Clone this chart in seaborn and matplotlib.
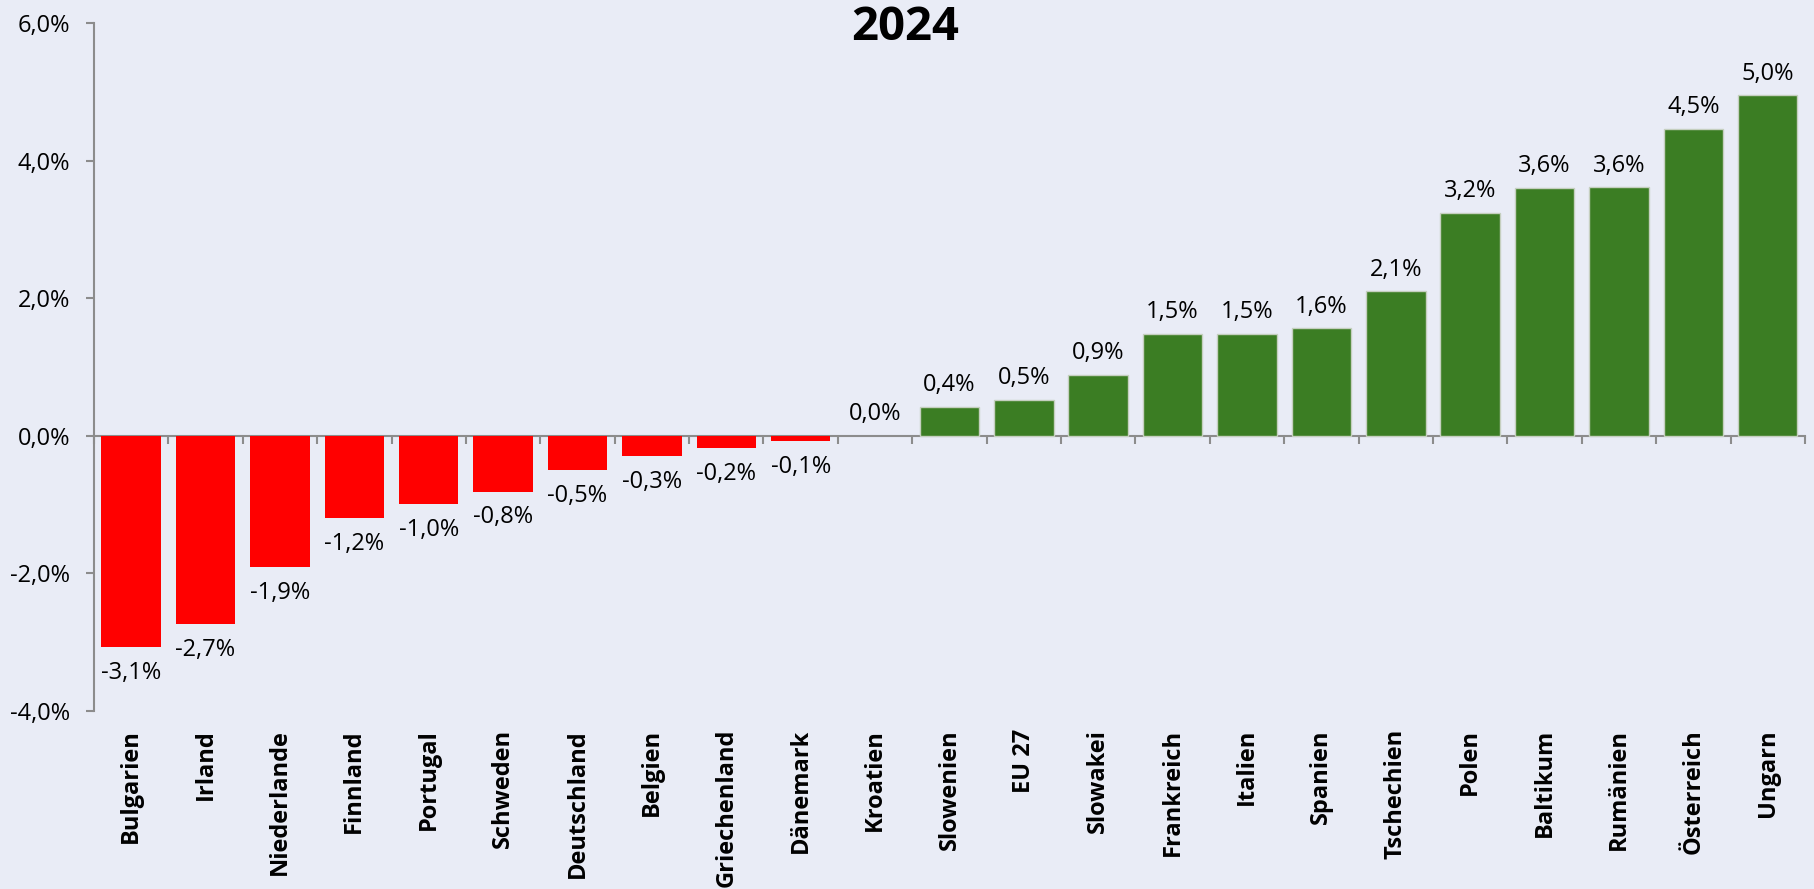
import numpy as np
import pandas as pd
import matplotlib
matplotlib.use("Agg")
import matplotlib.pyplot as plt
from matplotlib.ticker import FuncFormatter, FixedLocator
import seaborn as sns

countries = ["Bulgarien", "Irland", "Niederlande", "Finnland", "Portugal", "Schweden",
             "Deutschland", "Belgien", "Griechenland", "Dänemark", "Kroatien", "Slowenien",
             "EU 27", "Slowakei", "Frankreich", "Italien", "Spanien", "Tschechien",
             "Polen", "Baltikum", "Rumänien", "Österreich", "Ungarn"]
values = [-3.07, -2.74, -1.91, -1.19, -0.99, -0.81, -0.50, -0.29, -0.18, -0.08, 0.0, 0.42,
          0.52, 0.89, 1.48, 1.48, 1.56, 2.10, 3.24, 3.60, 3.61, 4.46, 4.95]
labels = ["-3,1%", "-2,7%", "-1,9%", "-1,2%", "-1,0%", "-0,8%", "-0,5%", "-0,3%", "-0,2%",
          "-0,1%", "0,0%", "0,4%", "0,5%", "0,9%", "1,5%", "1,5%", "1,6%", "2,1%", "3,2%",
          "3,6%", "3,6%", "4,5%", "5,0%"]
title = "2024"

bg = "#e9ecf6"
red = "#ff0000"
green = "#3b7d23"
grey = "#8c8c8c"

sns.set_style("white", {"axes.facecolor": bg, "figure.facecolor": bg,
                        "text.color": "black", "xtick.color": "black", "ytick.color": "black"})
plt.rcParams["font.family"] = ["Open Sans", "DejaVu Sans"]

df = pd.DataFrame({"land": countries, "wert": values})
colors = [red if v < 0 else green for v in values]

fig = plt.figure(figsize=(18.14, 8.89), dpi=100)
ax = fig.add_axes([0.0518, 0.2002, 0.9432, 0.7739])

sns.barplot(data=df, x="land", y="wert", hue="land", palette=colors, legend=False,
            width=0.8, ax=ax, saturation=1)
for bar, v in zip(ax.patches, values):
    if v > 0:
        bar.set_edgecolor("#c5cfbf")
        bar.set_linewidth(1)
    else:
        bar.set_linewidth(0)

for i, (v, lab) in enumerate(zip(values, labels)):
    if v < 0:
        ax.annotate(lab, (i, v), xytext=(0, -10), textcoords="offset points",
                    ha="center", va="top", fontsize=17, color="black")
    else:
        ax.annotate(lab, (i, v), xytext=(0, 7), textcoords="offset points",
                    ha="center", va="bottom", fontsize=17, color="black")

ylo, yhi = -4, 6
ax.set_ylim(ylo, yhi)
ax.set_xlim(-0.5, len(countries) - 0.5)
ax.set_yticks(np.arange(ylo, yhi + 1, 2))
ax.yaxis.set_major_formatter(FuncFormatter(lambda y, p: f"{y:.1f}%".replace(".", ",")))
ax.tick_params(axis="y", length=6, width=1.5, color=grey, pad=11, labelsize=17,
               left=True, labelcolor="black")
ax.tick_params(axis="x", length=0, pad=13, labelsize=17, labelcolor="black")
ax.set_xticks(range(len(countries)))
ax.set_xticklabels(countries, rotation=90, fontweight="bold")
ax.set_xlabel("")
ax.set_ylabel("")

for s in ["top", "right", "bottom"]:
    ax.spines[s].set_visible(False)
ax.spines["left"].set_color(grey)
ax.spines["left"].set_linewidth(1.5)

# zero line with category separators
zero = ax.secondary_xaxis((0 - ylo) / (yhi - ylo))
zero.xaxis.set_major_locator(FixedLocator(np.arange(len(countries) + 1) - 0.5))
zero.tick_params(axis="x", direction="out", length=6, width=1.5, color=grey, labelbottom=False)
zero.spines["bottom"].set_color(grey)
zero.spines["bottom"].set_linewidth(1.5)
zero.set_zorder(0.5)

fig.text(0.499, 0.969, title, ha="center", va="center", fontsize=34, fontweight="bold",
         color="black")

fig.savefig("out.png", dpi=100, facecolor=bg)
